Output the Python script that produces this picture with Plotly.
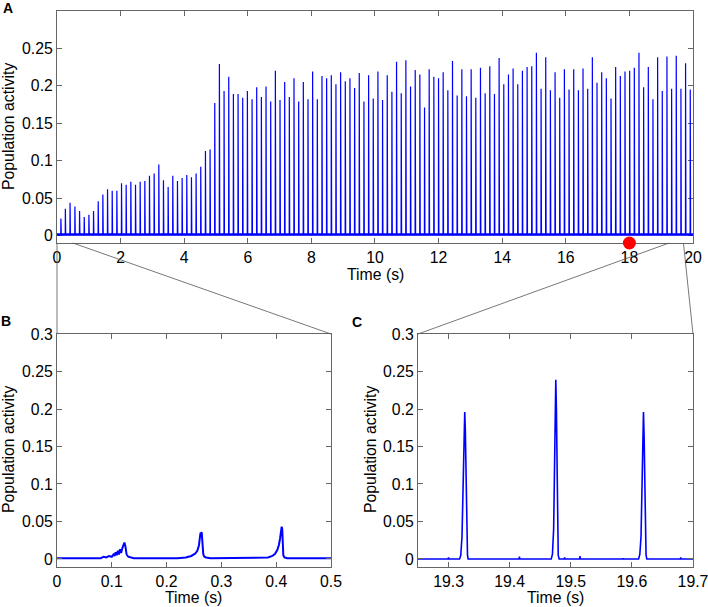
import plotly.graph_objects as go

# ---------------- data ----------------
peak_times = [
    0.123, 0.263, 0.410, 0.563, 0.709, 0.856, 1.003, 1.149, 1.296, 1.442,
    1.589, 1.736, 1.882, 2.029, 2.175, 2.322, 2.469, 2.615, 2.762, 2.908,
    3.055, 3.202, 3.348, 3.495, 3.641, 3.788, 3.935, 4.081, 4.228, 4.374,
    4.521, 4.668, 4.814, 4.961, 5.107, 5.254, 5.401, 5.547, 5.694, 5.840,
    5.987, 6.134, 6.280, 6.427, 6.573, 6.720, 6.867, 7.013, 7.160, 7.306,
    7.453, 7.600, 7.746, 7.893, 8.039, 8.186, 8.333, 8.479, 8.626, 8.772,
    8.919, 9.066, 9.212, 9.359, 9.505, 9.652, 9.799, 9.945, 10.092, 10.238,
    10.385, 10.532, 10.678, 10.825, 10.971, 11.118, 11.265, 11.411, 11.558, 11.704,
    11.851, 11.998, 12.144, 12.291, 12.437, 12.584, 12.731, 12.877, 13.024, 13.170,
    13.317, 13.464, 13.610, 13.757, 13.903, 14.050, 14.197, 14.343, 14.490, 14.636,
    14.783, 14.930, 15.076, 15.223, 15.369, 15.516, 15.663, 15.809, 15.956, 16.102,
    16.249, 16.396, 16.542, 16.689, 16.835, 16.982, 17.129, 17.275, 17.422, 17.568,
    17.715, 17.862, 18.008, 18.155, 18.301, 18.448, 18.595, 18.741, 18.888, 19.034,
    19.181, 19.328, 19.474, 19.621, 19.767, 19.914,
]
peak_heights = [
    0.023, 0.036, 0.044, 0.039, 0.033, 0.025, 0.028, 0.033, 0.046, 0.055,
    0.062, 0.060, 0.060, 0.070, 0.068, 0.072, 0.068, 0.072, 0.073, 0.080,
    0.083, 0.095, 0.074, 0.065, 0.080, 0.073, 0.077, 0.081, 0.078, 0.083,
    0.092, 0.113, 0.115, 0.177, 0.229, 0.193, 0.212, 0.189, 0.189, 0.184,
    0.193, 0.182, 0.198, 0.185, 0.199, 0.179, 0.220, 0.181, 0.205, 0.185,
    0.210, 0.179, 0.205, 0.182, 0.219, 0.182, 0.213, 0.210, 0.214, 0.202,
    0.218, 0.206, 0.210, 0.197, 0.217, 0.179, 0.214, 0.183, 0.219, 0.181,
    0.214, 0.192, 0.232, 0.190, 0.234, 0.199, 0.221, 0.215, 0.171, 0.222,
    0.212, 0.210, 0.218, 0.194, 0.233, 0.187, 0.222, 0.186, 0.222, 0.184,
    0.224, 0.190, 0.226, 0.189, 0.237, 0.202, 0.215, 0.223, 0.202, 0.220,
    0.225, 0.226, 0.244, 0.196, 0.238, 0.194, 0.218, 0.184, 0.222, 0.195,
    0.222, 0.194, 0.223, 0.196, 0.238, 0.204, 0.218, 0.210, 0.183, 0.225,
    0.213, 0.219, 0.220, 0.224, 0.244, 0.198, 0.225, 0.182, 0.238, 0.193,
    0.239, 0.196, 0.240, 0.196, 0.230, 0.195,
]
baseline_level = 0.0015

b_time = [0.0, 0.06, 0.075, 0.08, 0.085, 0.09, 0.095, 0.10, 0.103, 0.105,
          0.107, 0.109, 0.111, 0.113, 0.115, 0.117, 0.119, 0.121, 0.123, 0.125,
          0.127, 0.13, 0.14, 0.22, 0.235, 0.245, 0.252, 0.256, 0.259, 0.261,
          0.262, 0.263, 0.264, 0.265, 0.266, 0.267, 0.269, 0.272, 0.28, 0.37,
          0.385, 0.393, 0.398, 0.402, 0.405, 0.407, 0.409, 0.41, 0.411, 0.412,
          0.413, 0.415, 0.42, 0.5]
b_activity = [0.001, 0.001, 0.002, 0.001, 0.003, 0.002, 0.004, 0.003, 0.006, 0.004,
              0.009, 0.005, 0.011, 0.006, 0.013, 0.008, 0.014, 0.018, 0.022, 0.016,
              0.006, 0.003, 0.001, 0.001, 0.002, 0.004, 0.007, 0.011, 0.018, 0.030,
              0.035, 0.034, 0.036, 0.028, 0.015, 0.006, 0.003, 0.002, 0.001, 0.001,
              0.002, 0.004, 0.007, 0.012, 0.019, 0.027, 0.036, 0.043, 0.040, 0.020,
              0.005, 0.002, 0.001, 0.001]

c_time = [19.25, 19.2995, 19.300, 19.3005,
          19.318, 19.320, 19.322, 19.324, 19.3255, 19.3265, 19.3275, 19.329, 19.330, 19.331, 19.332,
          19.3945, 19.395, 19.3955, 19.4155, 19.416, 19.4165,
          19.468, 19.470, 19.472, 19.4735, 19.4748, 19.4755, 19.4765, 19.4775, 19.4785, 19.4795, 19.481,
          19.4895, 19.490, 19.4905, 19.5145, 19.515, 19.5155, 19.5855, 19.586, 19.5865,
          19.611, 19.613, 19.615, 19.6165, 19.618, 19.619, 19.620, 19.6212, 19.6222, 19.6232, 19.6245,
          19.6795, 19.680, 19.6805, 19.70]
c_activity = [0.0, 0.0, 0.002, 0.0,
              0.0, 0.005, 0.03, 0.10, 0.16, 0.196, 0.17, 0.09, 0.03, 0.005, 0.0,
              0.0, 0.001, 0.0, 0.0, 0.003, 0.0,
              0.0, 0.006, 0.04, 0.12, 0.20, 0.239, 0.20, 0.10, 0.035, 0.005, 0.0,
              0.0, 0.002, 0.0, 0.0, 0.004, 0.0, 0.0, 0.001, 0.0,
              0.0, 0.006, 0.03, 0.09, 0.16, 0.196, 0.165, 0.09, 0.03, 0.005, 0.0,
              0.0, 0.002, 0.0, 0.0]

marker_time = 18.0

a_xticks = [0, 2, 4, 6, 8, 10, 12, 14, 16, 18, 20]
a_yticks = [0, 0.05, 0.1, 0.15, 0.2, 0.25]
a_ytext = ["0", "0.05", "0.1", "0.15", "0.2", "0.25"]
bc_yticks = [0, 0.05, 0.1, 0.15, 0.2, 0.25, 0.3]
bc_ytext = ["0", "0.05", "0.1", "0.15", "0.2", "0.25", "0.3"]
b_xticks = [0, 0.1, 0.2, 0.3, 0.4, 0.5]
b_xtext = ["0", "0.1", "0.2", "0.3", "0.4", "0.5"]
c_xticks = [19.3, 19.4, 19.5, 19.6, 19.7]
c_xtext = ["19.3", "19.4", "19.5", "19.6", "19.7"]

# ---------------- layout geometry ----------------
W, H = 708, 607
A_rx, A_ry = [0, 20.0005], [-0.0097, 0.2995]
B_rx, BC_ry = [0, 0.50001], [-0.0107, 0.30001]
C_rx = [19.25, 19.70005]
B_zoom = [0, 0.5]
C_zoom = [19.25, 19.7]

def dom_x(a, b):
    return [a / W, b / W]

def dom_y(top, bottom):
    return [1 - bottom / H, 1 - top / H]

A_dx, A_dy = dom_x(57, 693), dom_y(11, 243)
B_dx, B_dy = dom_x(57, 331), dom_y(334, 567)
C_dx, C_dy = dom_x(418, 693), dom_y(334, 567)

def to_paper(dom, rng, v):
    return dom[0] + (v - rng[0]) / (rng[1] - rng[0]) * (dom[1] - dom[0])

# ---------------- build traces ----------------
a_x, a_y = [0.0], [baseline_level]
for t, h in zip(peak_times, peak_heights):
    a_x += [t - 0.012, t - 0.004, t, t + 0.004, t + 0.012]
    a_y += [baseline_level, 0.004, h, 0.003, baseline_level]
a_x.append(20.0)
a_y.append(baseline_level)

BLUE = "#0000ff"
fig = go.Figure()
fig.add_trace(go.Scatter(x=[0, 20], y=[baseline_level, baseline_level], mode="lines",
                         line=dict(color=BLUE, width=2.5), xaxis="x", yaxis="y",
                         hoverinfo="skip", showlegend=False))
fig.add_trace(go.Scatter(x=a_x, y=a_y, mode="lines", line=dict(color=BLUE, width=1.2),
                         xaxis="x", yaxis="y", showlegend=False))
fig.add_trace(go.Scatter(x=[marker_time], y=[A_ry[0]], mode="markers",
                         marker=dict(color="#ff0000", size=13, line=dict(width=0)),
                         cliponaxis=False, xaxis="x", yaxis="y", showlegend=False))
fig.add_trace(go.Scatter(x=b_time, y=b_activity, mode="lines", line=dict(color=BLUE, width=2),
                         xaxis="x2", yaxis="y2", showlegend=False))
fig.add_trace(go.Scatter(x=c_time, y=c_activity, mode="lines", line=dict(color=BLUE, width=1.6),
                         xaxis="x3", yaxis="y3", showlegend=False))

FONT = "Liberation Sans, Arial, Helvetica, sans-serif"
AXC = "#666666"
FS = 15.8

def axis(rng, dom, vals, text, anchor, layer="above traces"):
    return dict(range=rng, domain=dom, tickvals=vals, ticktext=text, anchor=anchor,
                showline=True, linecolor=AXC, linewidth=1, mirror="ticks",
                ticks="inside", ticklen=5, tickcolor=AXC, tickwidth=1, layer=layer,
                showgrid=False, zeroline=False, fixedrange=True,
                ticklabeloverflow="allow",
                tickfont=dict(family=FONT, size=FS, color="black"))

fig.update_layout(
    width=W, height=H, margin=dict(l=0, r=0, t=0, b=0, autoexpand=False),
    paper_bgcolor="white", plot_bgcolor="white", showlegend=False,
    xaxis=axis(A_rx, A_dx, a_xticks, [str(v) for v in a_xticks], "y", "below traces"),
    yaxis=axis(A_ry, A_dy, a_yticks, a_ytext, "x", "below traces"),
    xaxis2=axis(B_rx, B_dx, b_xticks, b_xtext, "y2"),
    yaxis2=axis(BC_ry, B_dy, bc_yticks, bc_ytext, "x2"),
    xaxis3=axis(C_rx, C_dx, c_xticks, c_xtext, "y3"),
    yaxis3=axis(BC_ry, C_dy, bc_yticks, bc_ytext, "x3"),
)

def ann(text, x, y, size=FS, bold=False, angle=0):
    fig.add_annotation(text=("<b>%s</b>" % text) if bold else text,
                       x=x / W, y=1 - y / H, xref="paper", yref="paper",
                       showarrow=False, textangle=angle, xanchor="center", yanchor="middle",
                       font=dict(family=FONT, size=size, color="black"))

ann("A", 8, 8, size=14, bold=True)
ann("B", 6, 321, size=14, bold=True)
ann("C", 357, 322, size=14, bold=True)
ann("Time (s)", 375, 274)
ann("Time (s)", 194, 597)
ann("Time (s)", 555, 597)
ann("Population activity", 9, 127, angle=-90)
ann("Population activity", 8, 450, angle=-90)
ann("Population activity", 370, 450, angle=-90)

# zoom connector lines
LC = "#555555"
lines = [
    (to_paper(A_dx, A_rx, B_zoom[0]), A_dy[0], B_dx[0], B_dy[1]),
    (to_paper(A_dx, A_rx, B_zoom[1]), A_dy[0], B_dx[1], B_dy[1]),
    (to_paper(A_dx, A_rx, C_zoom[0]), A_dy[0], C_dx[0], C_dy[1]),
    (to_paper(A_dx, A_rx, C_zoom[1]), A_dy[0], C_dx[1], C_dy[1]),
]
for x0, y0, x1, y1 in lines:
    fig.add_shape(type="line", xref="paper", yref="paper", x0=x0, y0=y0, x1=x1, y1=y1,
                  line=dict(color=LC, width=0.8))

fig.write_html("out.html", config={"displayModeBar": False},
               post_script="document.body.style.margin='0';document.body.style.overflow='hidden';")
